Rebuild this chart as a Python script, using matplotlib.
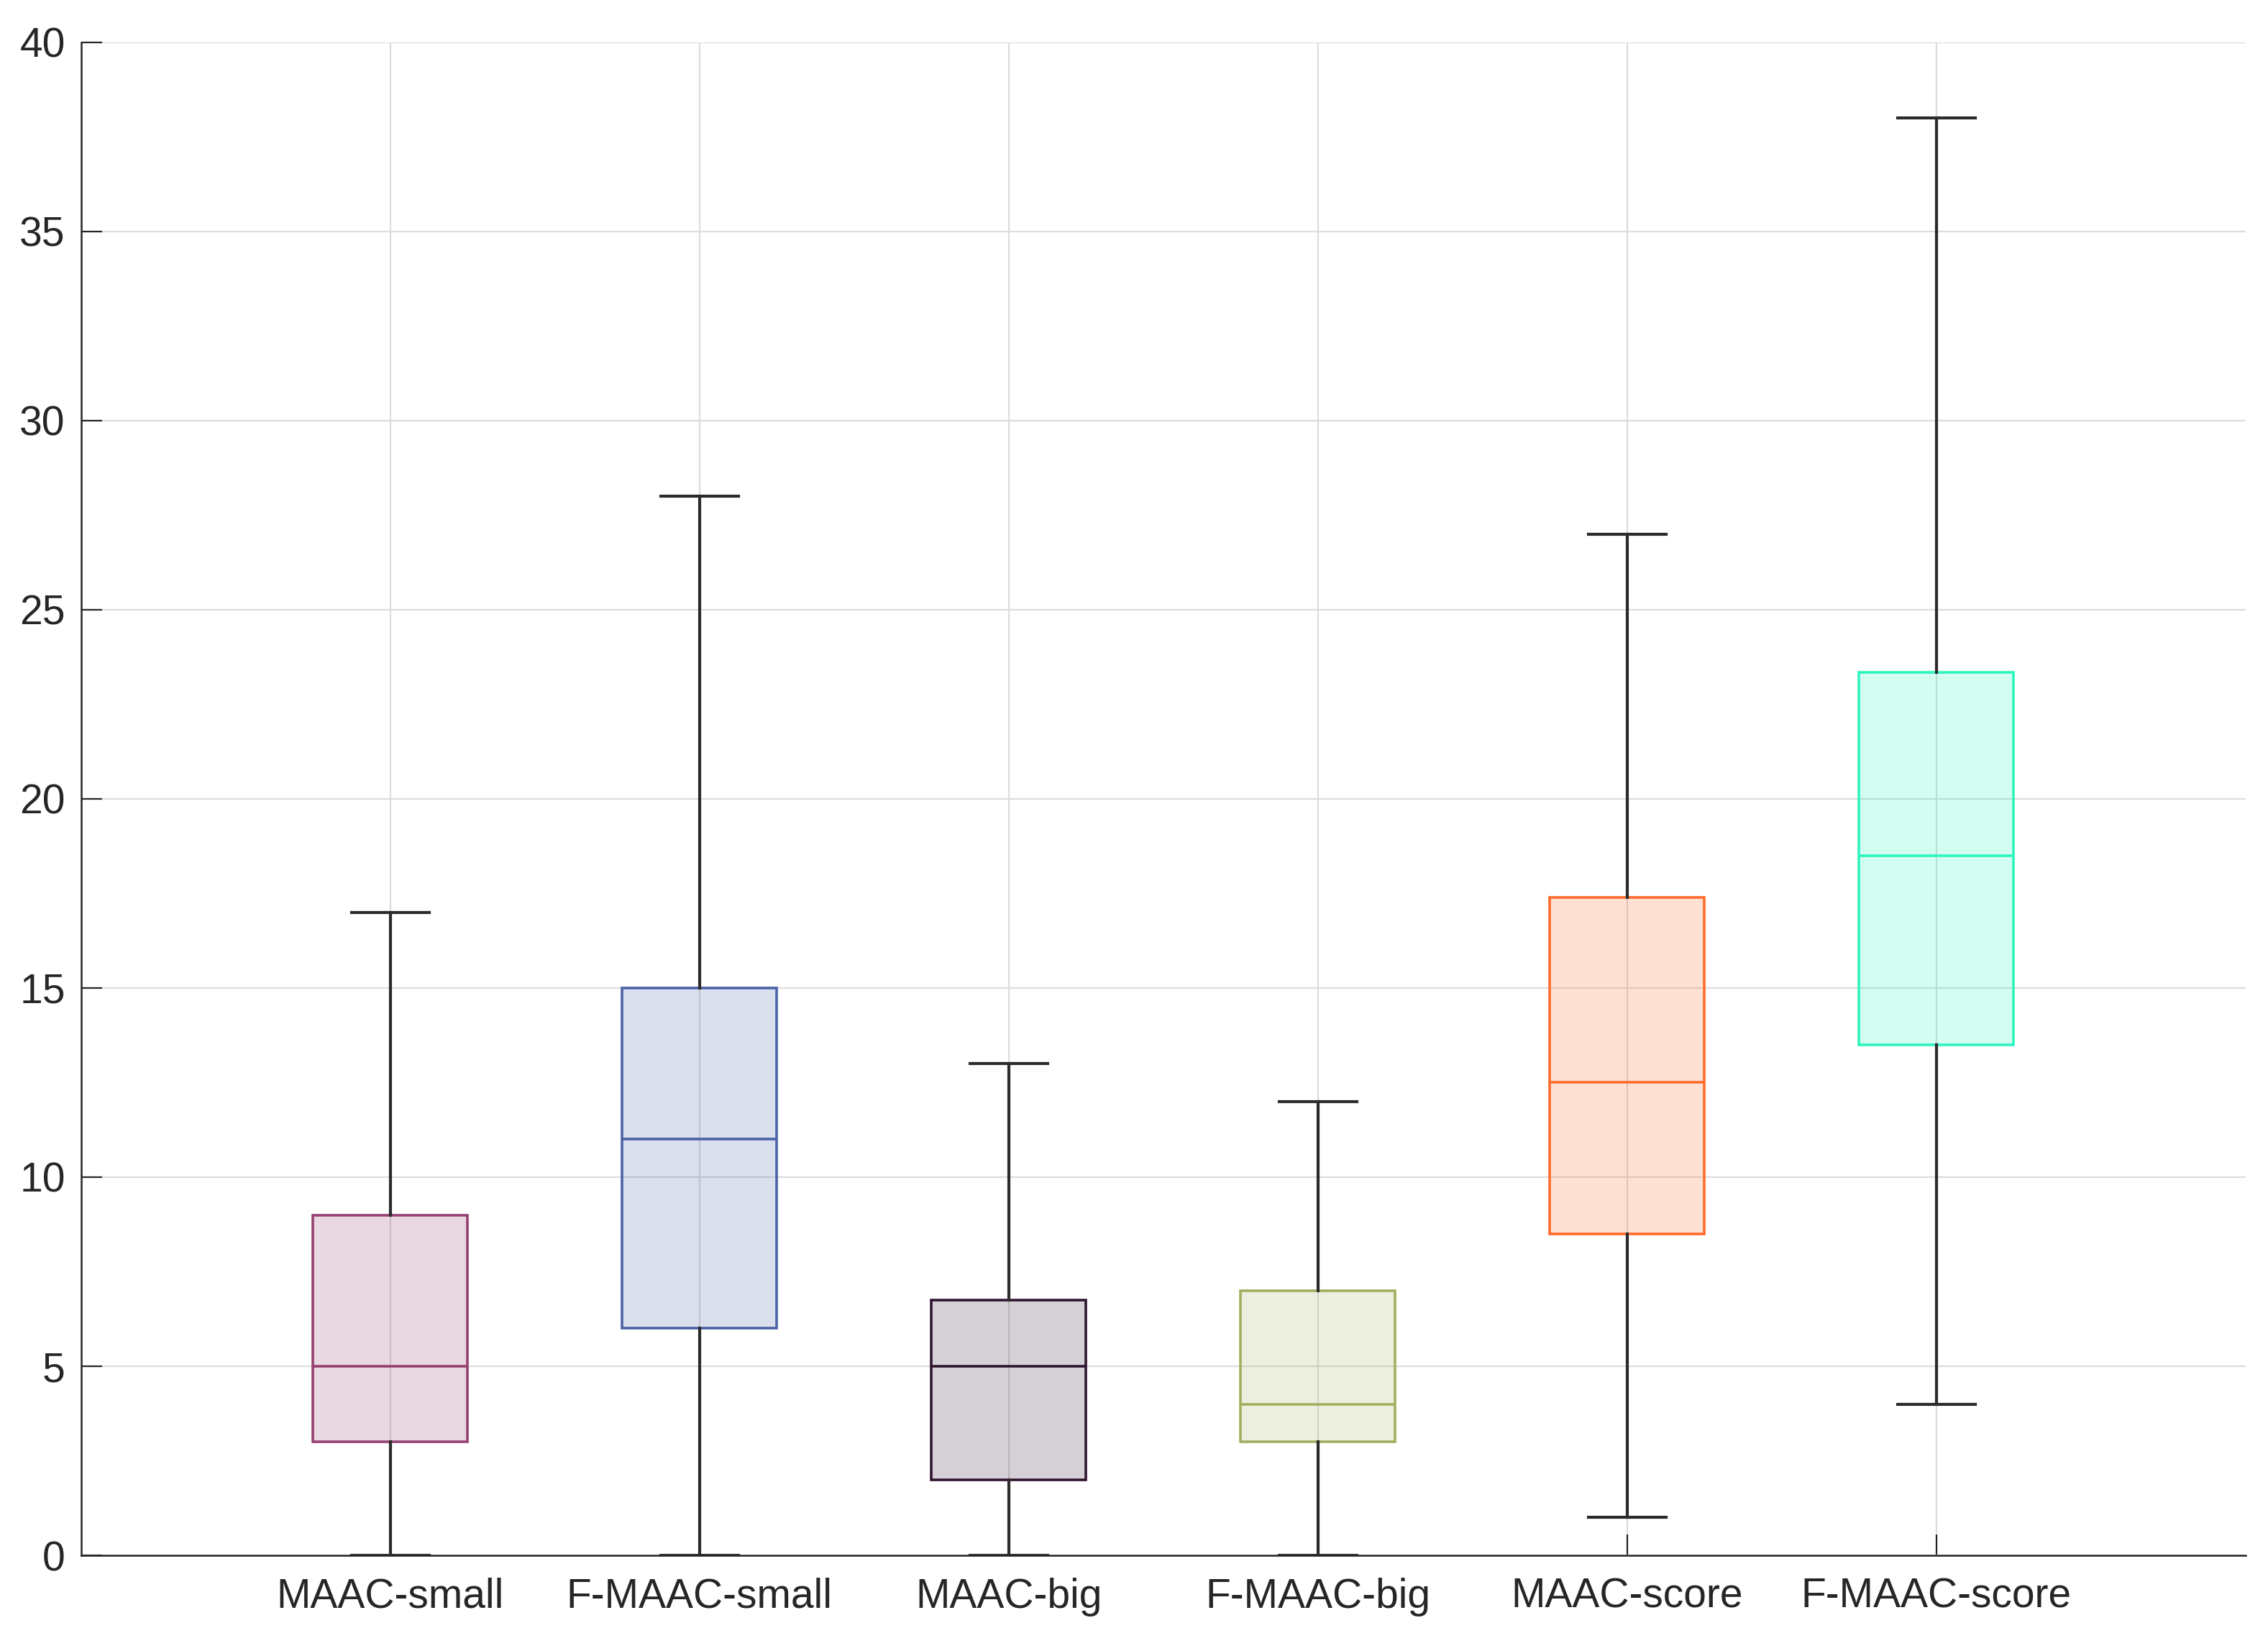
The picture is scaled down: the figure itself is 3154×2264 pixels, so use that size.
import numpy as np
import matplotlib
matplotlib.use("Agg")
import matplotlib.pyplot as plt
from matplotlib.colors import to_rgba

plt.rcParams["font.family"] = ["Liberation Sans", "DejaVu Sans"]

# ── Data ─────────────────────────────────────────────────────────────────────
methods  = ["MAAC-small", "F-MAAC-small", "MAAC-big", "F-MAAC-big", "MAAC-score", "F-MAAC-score"]
whis_lo  = [0, 0, 0, 0, 1, 4]
q1       = [3, 6, 2, 3, 8.5, 13.5]
medians  = [5, 11, 5, 4, 12.5, 18.5]
q3       = [9, 15, 6.75, 7, 17.4, 23.35]
whis_hi  = [17, 28, 13, 12, 27, 38]

edge_colors = ["#954070", "#4A62A6", "#301530", "#A0B060", "#FF6B2B", "#2CF5BE"]

stats = [
    dict(label=m, whislo=lo, q1=a, med=md, q3=b, whishi=hi, fliers=[])
    for m, lo, a, md, b, hi in zip(methods, whis_lo, q1, medians, q3, whis_hi)
]

# ── Plot ─────────────────────────────────────────────────────────────────────
fig = plt.figure(figsize=(15.77, 11.32), dpi=200)
ax = fig.add_axes([0.0358, 0.0446, 0.9543, 0.9294])

bp = ax.bxp(
    stats,
    positions=np.arange(1, len(methods) + 1),
    widths=0.5,
    capwidths=0.25,
    patch_artist=True,
    showfliers=False,
    whiskerprops=dict(color="#2b2b2b", linewidth=1.5),
    capprops=dict(color="#2b2b2b", linewidth=1.5),
)

for box, med, c in zip(bp["boxes"], bp["medians"], edge_colors):
    box.set_facecolor(to_rgba(c, 0.2))
    box.set_edgecolor(c)
    box.set_linewidth(1.3)
    med.set_color(c)
    med.set_linewidth(1.3)

ax.set_xlim(0, 7)
ax.set_ylim(0, 40)
ax.set_yticks(np.arange(0, 41, 5))
ax.set_xticks(np.arange(1, len(methods) + 1))
ax.set_xticklabels(methods)

ax.grid(True, color="#dcdcdc", linewidth=0.8)
ax.set_axisbelow(True)

for side in ["top", "right"]:
    ax.spines[side].set_visible(False)
for side in ["left", "bottom"]:
    ax.spines[side].set_color("#262626")
    ax.spines[side].set_linewidth(0.9)

ax.tick_params(axis="both", direction="in", length=10.5, width=0.8,
               color="#262626", labelsize=20.5, labelcolor="#262626")
ax.tick_params(axis="y", pad=8)
ax.tick_params(axis="x", pad=11)

plt.savefig("out.png", dpi=200)
